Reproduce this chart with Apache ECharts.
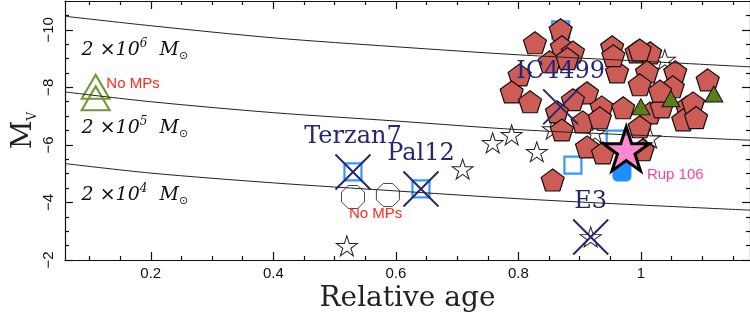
<!DOCTYPE html>
<html>
<head>
<meta charset="utf-8">
<script src="https://cdn.jsdelivr.net/npm/echarts@6.0.0/dist/echarts.min.js"></script>
<style>
  html, body { margin: 0; padding: 0; background: #fff; }
  #main { width: 750px; height: 319px; }
</style>
</head>
<body>
<div id="main"></div>
<script>
// axis range and ticks
const xMin = 0.06, xMax = 1.178;
const yMin = -11, yMax = -2;
const xMajorTicks = [0.2, 0.4, 0.6, 0.8, 1.0];
const xMinorTicks = [0.1, 0.15, 0.25, 0.3, 0.35, 0.45, 0.5, 0.55, 0.65, 0.7, 0.75, 0.85, 0.9, 0.95, 1.05, 1.1, 1.15];
const yMajorTicks = [-10, -8, -6, -4, -2];
const yMinorTicks = [-10.5, -9.5, -9, -8.5, -7.5, -7, -6.5, -5.5, -5, -4.5, -3.5, -3, -2.5];

// constant mass lines
const massX = [0.06, 0.2, 0.4, 0.6, 0.8, 1.0, 1.18];
const line2e6 = [-10.47, -10.14, -9.72, -9.41, -9.13, -8.91, -8.71];
const line2e5 = [-7.84, -7.5, -7.12, -6.83, -6.53, -6.33, -6.16];
const line2e4 = [-5.35, -5.02, -4.68, -4.4, -4.13, -3.91, -3.73];
const massExp = ['6', '5', '4'];
const massLabelX = [0.174, 0.174, 0.174];
const massLabelY = [-9.3, -6.59, -4.26];

// red pentagons
const pentX = [0.869, 0.827, 0.871, 0.889, 0.953, 0.993, 1.015, 0.851, 0.961, 0.802, 0.789, 0.819,
  1.010, 1.056, 1.109, 0.998, 1.052, 0.912, 0.936, 0.889, 0.863, 0.905, 0.871, 0.971, 1.015, 1.034,
  1.075, 1.069, 0.998, 0.912, 0.938, 1.003, 0.856, 0.998, 1.085, 0.933, 1.031, 0.880, 0.955, 1.090];
const pentY = [-10.0, -9.55, -9.41, -9.23, -9.41, -9.23, -9.2, -8.89, -8.54, -8.43, -7.84, -7.5,
  -8.54, -8.54, -8.26, -8.09, -8.02, -7.81, -7.32, -7.57, -7.15, -6.8, -6.52, -7.29, -7.11, -7.32,
  -7.32, -6.87, -6.63, -5.93, -5.72, -5.83, -4.78, -9.3, -7.46, -6.94, -7.87, -9.0, -9.1, -6.95];

// open stars
const starX = [0.520, 0.709, 0.758, 0.789, 0.830, 0.918, 1.015, 0.925, 1.039, 0.856];
const starY = [-2.49, -5.16, -6.07, -6.35, -5.76, -2.80, -6.24, -6.42, -8.96, -6.55];

// blue squares
const sqOpenX = [0.869, 0.889, 0.958, 0.530, 0.641];
const sqOpenY = [-10.0, -5.30, -6.2, -5.06, -4.47];
const sqFillX = [0.969];
const sqFillY = [-5.06];

// green triangles
const triFillX = [1.0, 1.049, 1.119];
const triFillY = [-7.32, -7.6, -7.77];
const triOpenX = [0.110, 0.110];
const triOpenY = [-8.02, -7.62];

// Rup 106
const rupX = [0.976];
const rupY = [-5.86];

// octagons
const octX = [0.530, 0.587];
const octY = [-4.19, -4.26];

// named clusters with crosses
const crossNames = ['Terzan7', 'Pal12', 'IC4499', 'E3'];
const crossX = [0.530, 0.641, 0.869, 0.918];
const crossY = [-5.06, -4.47, -7.32, -2.80];

// notes
const noteText = ['No MPs', 'No MPs'];
const noteX = [0.171, 0.567];
const noteY = [-8.12, -3.59];
const rupNoteX = [1.056];
const rupNoteY = [-4.96];

const pts = (xs, ys) => xs.map((x, i) => [x, ys[i]]);

const penta = 'path://M0,-100 L95.1,-30.9 L58.8,80.9 L-58.8,80.9 L-95.1,-30.9 Z';
const star5 = 'path://M0,-100 L22.45,-30.9 L95.1,-30.9 L36.3,11.8 L58.8,80.9 L0,38.2 L-58.8,80.9 L-36.3,11.8 L-95.1,-30.9 L-22.45,-30.9 Z';
const octa = 'path://M-38.3,-92.4 L38.3,-92.4 L92.4,-38.3 L92.4,38.3 L38.3,92.4 L-38.3,92.4 L-92.4,38.3 L-92.4,-38.3 Z';
const cross = 'path://M0,0 L100,100 M100,0 L0,100';

const navy = '#262678';
const frame = { color: '#111', width: 1.2 };

function xAx(pos, ticks, len, withLabel) {
  return {
    type: 'value', min: xMin, max: xMax, position: pos,
    axisLine: { show: withLabel !== undefined, lineStyle: frame },
    axisTick: { inside: true, length: len, customValues: ticks, lineStyle: frame },
    axisLabel: withLabel ? {
      customValues: ticks, margin: 6, color: '#111',
      fontFamily: 'Liberation Sans', fontSize: 15,
      formatter: v => String(v)
    } : { show: false },
    splitLine: { show: false }
  };
}
function yAx(pos, ticks, len, withLabel) {
  return {
    type: 'value', min: yMin, max: yMax, inverse: true, position: pos,
    axisLine: { show: withLabel !== undefined, lineStyle: frame },
    axisTick: { inside: true, length: len, customValues: ticks, lineStyle: frame },
    axisLabel: withLabel ? {
      customValues: ticks, margin: 9, rotate: 90, color: '#111',
      fontFamily: 'Liberation Sans', fontSize: 15,
      formatter: v => String(v).replace('-', '\u2212')
    } : { show: false },
    splitLine: { show: false }
  };
}

const xAxes = [
  xAx('bottom', xMajorTicks, 8, true),
  xAx('bottom', xMinorTicks, 4),
  xAx('top', xMajorTicks, 8, false),
  xAx('top', xMinorTicks, 4)
];
Object.assign(xAxes[0], {
  name: 'Relative age', nameLocation: 'middle', nameGap: 25, nameMoveOverlap: false,
  nameTextStyle: { fontFamily: 'DejaVu Serif', fontSize: 28, color: '#222' }
});
const yAxes = [
  yAx('left', yMajorTicks, 8, true),
  yAx('left', yMinorTicks, 4),
  yAx('right', yMajorTicks, 8, false),
  yAx('right', yMinorTicks, 4)
];
Object.assign(yAxes[0], {
  name: '{m|M}{v|V}', nameLocation: 'middle', nameGap: 26, nameRotate: 90, nameMoveOverlap: false,
  nameTextStyle: {
    rich: {
      m: { fontFamily: 'DejaVu Serif', fontSize: 28, color: '#222', lineHeight: 30 },
      v: { fontFamily: 'DejaVu Serif', fontSize: 12, color: '#222', verticalAlign: 'bottom', lineHeight: 12 }
    }
  }
});

const massLine = d => ({
  type: 'line', data: pts(massX, d), smooth: 0.3, symbol: 'none', clip: true,
  lineStyle: { color: '#222', width: 1 }, silent: true
});

const option = {
  animation: false,
  grid: { left: 65, right: 0, top: 1, bottom: 59 },
  xAxis: xAxes,
  yAxis: yAxes,
  series: [
    massLine(line2e6), massLine(line2e5), massLine(line2e4),
    {
      type: 'scatter', data: pts(starX, starY), symbol: star5, symbolSize: [21, 20],
      itemStyle: { color: '#fff', borderColor: '#222', borderWidth: 1, opacity: 1 }
    },
    {
      type: 'scatter', data: pts(sqOpenX, sqOpenY), symbol: 'rect', symbolSize: 17,
      itemStyle: { color: 'none', borderColor: '#3399ff', borderWidth: 2.2, opacity: 1 }
    },
    {
      type: 'scatter', data: pts(pentX, pentY), symbol: penta, symbolSize: [23, 22],
      itemStyle: { color: '#cd5c57', borderColor: '#111', borderWidth: 1.2, opacity: 1 }
    },
    {
      type: 'scatter', data: pts(triFillX, triFillY), symbol: 'triangle', symbolSize: [18, 16],
      itemStyle: { color: '#5b7e1a', borderColor: '#111', borderWidth: 1, opacity: 1 }
    },
    {
      type: 'scatter', data: pts(sqFillX, sqFillY), symbol: 'roundRect', symbolSize: 19,
      itemStyle: { color: '#1e8fff', opacity: 1 }
    },
    {
      type: 'scatter', data: pts(rupX, rupY), symbol: star5, symbolSize: [46, 44],
      itemStyle: { color: '#ff88cf', borderColor: '#000', borderWidth: 3, opacity: 1 }
    },
    {
      type: 'scatter', data: pts(triOpenX, triOpenY), symbol: 'triangle', symbolSize: [28, 24],
      itemStyle: { color: 'none', borderColor: '#6f9a32', borderWidth: 2, opacity: 1 }
    },
    {
      type: 'scatter', data: pts(octX, octY), symbol: octa, symbolSize: 23,
      itemStyle: { color: '#fff', borderColor: '#444', borderWidth: 1, opacity: 1 }
    },
    {
      type: 'scatter', symbol: cross, symbolSize: 35,
      data: crossNames.map((n, i) => ({ name: n, value: [crossX[i], crossY[i]] })),
      itemStyle: { color: 'none', borderColor: navy, borderWidth: 2, opacity: 1 },
      label: {
        show: true, position: 'top', distance: 3, formatter: '{b}',
        color: navy, fontFamily: 'DejaVu Serif', fontSize: 24
      }
    },
    {
      type: 'scatter', symbolSize: 1, itemStyle: { color: 'transparent', opacity: 1 },
      data: massExp.map((e, i) => ({ name: e, value: [massLabelX[i], massLabelY[i]] })),
      label: {
        show: true, position: 'inside',
        formatter: p => '{a|2 \u00d710}{s|' + p.name + '}{a|  M}{o|\u2299}',
        rich: {
          a: { fontFamily: 'DejaVu Serif', fontStyle: 'italic', fontSize: 19, color: '#111', lineHeight: 24 },
          s: { fontFamily: 'DejaVu Serif', fontStyle: 'italic', fontSize: 12, color: '#111', verticalAlign: 'top', lineHeight: 12 },
          o: { fontFamily: 'DejaVu Sans', fontSize: 11, color: '#111', verticalAlign: 'bottom', lineHeight: 12 }
        }
      }
    },
    {
      type: 'scatter', symbolSize: 1, itemStyle: { color: 'transparent', opacity: 1 },
      data: noteText.map((t, i) => ({ name: t, value: [noteX[i], noteY[i]] })),
      label: {
        show: true, position: 'inside', formatter: '{b}',
        color: '#ff2a1a', fontFamily: 'Liberation Sans', fontSize: 15
      }
    },
    {
      type: 'scatter', symbolSize: 1, itemStyle: { color: 'transparent', opacity: 1 },
      data: [{ name: 'Rup 106', value: [rupNoteX[0], rupNoteY[0]] }],
      label: {
        show: true, position: 'inside', formatter: '{b}',
        color: '#ff3fa4', fontFamily: 'Liberation Sans', fontSize: 15
      }
    }
  ]
};

const chart = echarts.init(document.getElementById('main'), null, { renderer: 'canvas' });
chart.setOption(option);
</script>
</body>
</html>
